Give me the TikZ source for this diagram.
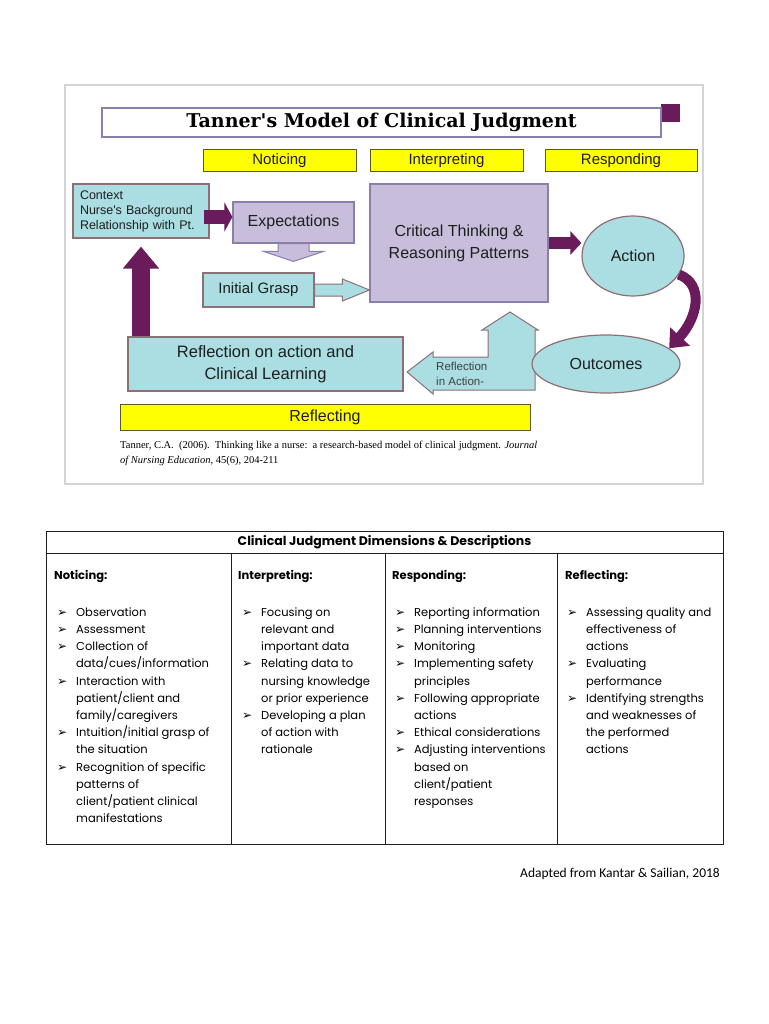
\documentclass[tikz,border=0pt]{standalone}
\usepackage{fontspec}
\setmainfont{Liberation Sans}
\newfontfamily\arialf{Liberation Sans}
\newfontfamily\slabf{DejaVu Serif}
\newfontfamily\timesf{Liberation Serif}
\newfontfamily\gothf{Poppins}
\newfontfamily\calf{Carlito}
\newfontfamily\symf{DejaVu Sans}
\usepackage{array}
\usetikzlibrary{positioning,arrows.meta,calc,shapes.geometric}
\definecolor{tCyan}{RGB}{170,222,226}
\definecolor{tCyanLine}{RGB}{140,112,116}
\definecolor{tLav}{RGB}{200,190,220}
\definecolor{tLavLine}{RGB}{140,126,170}
\definecolor{tPurple}{RGB}{106,27,91}
\definecolor{tYellow}{RGB}{255,255,0}
\definecolor{tYLine}{RGB}{90,90,40}
\definecolor{tFrame}{RGB}{212,212,212}
\definecolor{tText}{RGB}{30,30,30}
\tikzset{
  cbox/.style={rectangle, draw=tCyanLine, fill=tCyan, line width=1.2pt, inner sep=0pt,
               align=center, text=tText, font=\arialf\fontsize{16}{22}\selectfont},
  lbox/.style={cbox, draw=tLavLine, fill=tLav},
  oval/.style={ellipse, draw=tCyanLine, fill=tCyan, line width=1.2pt, inner sep=0pt,
               text=tText, font=\arialf\fontsize{16}{20}\selectfont},
  phase/.style={rectangle, draw=tYLine, fill=tYellow, line width=1pt, inner sep=0pt,
                minimum height=22, text=tText, font=\arialf\fontsize{15}{18}\selectfont},
  titlebox/.style={rectangle, draw=tLavLine, fill=white, line width=1.5pt,
                   minimum width=559, minimum height=29, inner sep=0pt,
                   font=\slabf\bfseries\fontsize{19}{22}\selectfont},
  pflow/.style={draw=tPurple, line width=14pt, -{Triangle[length=8pt,width=29pt]}},
  hollowL/.style={draw=tLavLine, fill=tLav, line width=1pt},
  hollowC/.style={draw=tCyanLine, fill=tCyan, line width=1pt},
  colhead/.style={anchor=base west, inner sep=0pt, font=\gothf\bfseries\fontsize{11.5}{14}\selectfont},
  collist/.style={anchor=north west, inner sep=0pt, font=\gothf\fontsize{11.5}{17.2}\selectfont},
}
% outlined block arrows: style, from, to, half body, half head, head length
\newcommand{\rtarrow}[6]{\draw[#1] let \p1=(#2), \p2=(#3) in
  (\x1,\y1+#4pt) -- (\x2-#6pt,\y1+#4pt) -- (\x2-#6pt,\y1+#5pt) -- (\x2,\y1)
  -- (\x2-#6pt,\y1-#5pt) -- (\x2-#6pt,\y1-#4pt) -- (\x1,\y1-#4pt) -- cycle;}
\newcommand{\dnarrow}[6]{\draw[#1] let \p1=(#2), \p2=(#3) in
  (\x1-#4pt,\y1) -- (\x1-#4pt,\y2+#6pt) -- (\x1-#5pt,\y2+#6pt) -- (\x1,\y2)
  -- (\x1+#5pt,\y2+#6pt) -- (\x1+#4pt,\y2+#6pt) -- (\x1+#4pt,\y1) -- cycle;}
\newcommand{\cjb}{{\symf\fontsize{12}{12}\selectfont ➢}}
\newenvironment{cjcol}{\begin{tabular}{@{}p{19pt}@{}l@{}}}{\end{tabular}}

\begin{document}
\begin{tikzpicture}[x=1pt, y=-1pt]
  \useasboundingbox[fill=white] (0,0) rectangle (768,1024);

  % panel with Tanner's model
  \draw[tFrame, line width=2pt, fill=white] (65,85) rectangle (703,484);
  \fill[tPurple] (661,104) rectangle (680,122);
  \node[titlebox] (title) at (381.5,122.5) {Tanner's Model of Clinical Judgment};

  % phases
  \node[phase, minimum width=153] (pNot) at (279.5,161) {Noticing};
  \node[phase, minimum width=153] (pInt) at (446.5,161) {Interpreting};
  \node[phase, minimum width=152] (pRes) at (621,161) {Responding};

  % boxes
  \node[cbox, minimum width=136, minimum height=54, text width=122, align=left,
        font=\arialf\fontsize{12.5}{15}\selectfont] (ctx) at (141,211)
        {Context\\Nurse's Background\\Relationship with Pt.};
  \node[lbox, minimum width=121, minimum height=41] (exp) at (293.5,222.5) {Expectations};
  \node[cbox, minimum width=111, minimum height=34,
        font=\arialf\fontsize{15}{18}\selectfont] (grasp) at (258.5,290) {Initial Grasp};
  \node[lbox, minimum width=178, minimum height=118] (ct) at (459,243)
        {Critical Thinking \&\\Reasoning Patterns};
  \node[oval, minimum width=102, minimum height=80] (act) at (633,256) {Action};

  % reflection in action
  \draw[hollowC] (407,372) -- (433,352) -- (433,357) -- (488,357) -- (488,330)
    -- (482,330) -- (510,312) -- (538,330) -- (535,330) -- (535,390)
    -- (433,390) -- (433,394) -- cycle;
  \node[anchor=west, align=left, inner sep=0pt, text=tText!85,
        font=\arialf\fontsize{11.5}{15}\selectfont] (ria) at (436,373.5) {Reflection\\in Action-};

  \node[oval, minimum width=148, minimum height=58] (outc) at (606,364) {Outcomes};
  \node[cbox, minimum width=275, minimum height=54,
        font=\arialf\fontsize{16.5}{22}\selectfont] (refl) at (265.5,364)
        {Reflection on action and\\Clinical Learning};
  \node[phase, minimum width=410, minimum height=26,
        font=\arialf\fontsize{16}{18}\selectfont] (pRef) at (325,417) {Reflecting};

  % arrows
  \draw[pflow] ($(ctx.east)+(-6,6)$) -- ($(exp.west)+(0,-5.5)$);
  \draw[pflow, line width=12pt, -{Triangle[length=11pt,width=23pt]}] (ct.east) -- (ct.east -| act.west);
  \draw[pflow, line width=18pt, -{Triangle[length=22pt,width=35pt]}]
    (ctx.south |- refl.north) -- ($(ctx.south)+(0,8)$);
  \draw[pflow, line width=10pt, -{Triangle[length=16pt,width=26pt]}]
    (act.-22) .. controls +(26,10) and +(28,-30) .. (outc.14);
  \dnarrow{hollowL}{exp.south}{$(grasp.north)+(0,-11)$}{15.5}{30}{10}
  \rtarrow{hollowC}{grasp.east}{ct.west}{6}{11}{27}

  % reference
  \node[anchor=north west, align=left, inner sep=0pt,
        font=\timesf\fontsize{10.5}{15}\selectfont] (cite) at (120,441)
        {Tanner, C.A.\ \ (2006).\ \ Thinking like a nurse:\ \ a research-based model of clinical judgment. \textit{Journal}\\
         \textit{of Nursing Education}, 45(6), 204-211};

  % table of dimensions
  \draw[line width=1pt, tText] (46,531) rectangle (723,844);
  \draw[line width=1pt, tText] (46,553) -- (723,553);
  \foreach \x in {231,385,557}
    \draw[line width=1pt, tText] (\x,553) -- (\x,844);
  \node[inner sep=0pt, font=\gothf\bfseries\fontsize{12.5}{14}\selectfont] (thead) at (384.5,542)
    {Clinical Judgment Dimensions \& Descriptions};

  \node[colhead] (hNot) at (54,579.5) {Noticing:};
  \node[colhead] (hInt) at (238,579.5) {Interpreting:};
  \node[colhead] (hRes) at (392,579.5) {Responding:};
  \node[colhead] (hRef) at (565,579.5) {Reflecting:};

  \node[collist] (lNot) at (57,604) {\begin{cjcol}
    \cjb & Observation\\
    \cjb & Assessment\\
    \cjb & Collection of\\
         & data/cues/information\\
    \cjb & Interaction with\\
         & patient/client and\\
         & family/caregivers\\
    \cjb & Intuition/initial grasp of\\
         & the situation\\
    \cjb & Recognition of specific\\
         & patterns of\\
         & client/patient clinical\\
         & manifestations
  \end{cjcol}};
  \node[collist] (lInt) at (242,604) {\begin{cjcol}
    \cjb & Focusing on\\
         & relevant and\\
         & important data\\
    \cjb & Relating data to\\
         & nursing knowledge\\
         & or prior experience\\
    \cjb & Developing a plan\\
         & of action with\\
         & rationale
  \end{cjcol}};
  \node[collist] (lRes) at (395,604) {\begin{cjcol}
    \cjb & Reporting information\\
    \cjb & Planning interventions\\
    \cjb & Monitoring\\
    \cjb & Implementing safety\\
         & principles\\
    \cjb & Following appropriate\\
         & actions\\
    \cjb & Ethical considerations\\
    \cjb & Adjusting interventions\\
         & based on\\
         & client/patient\\
         & responses
  \end{cjcol}};
  \node[collist] (lRef) at (567,604) {\begin{cjcol}
    \cjb & Assessing quality and\\
         & effectiveness of\\
         & actions\\
    \cjb & Evaluating\\
         & performance\\
    \cjb & Identifying strengths\\
         & and weaknesses of\\
         & the performed\\
         & actions
  \end{cjcol}};

  \node[anchor=east, inner sep=0pt, font=\calf\fontsize{13.5}{16}\selectfont] (src) at (720,874)
    {Adapted from Kantar \& Sailian, 2018};
\end{tikzpicture}
\end{document}
